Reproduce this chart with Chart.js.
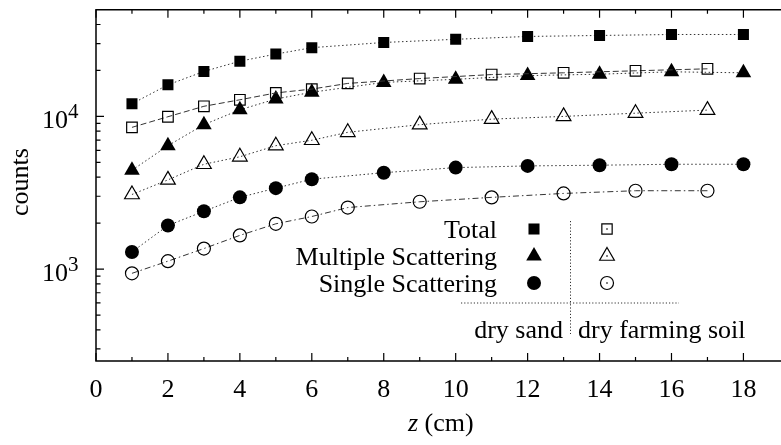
<!DOCTYPE html>
<html>
<head>
<meta charset="utf-8">
<script src="https://cdn.jsdelivr.net/npm/chart.js@4.4.1/dist/chart.umd.min.js"></script>
<style>
  html, body { margin: 0; padding: 0; background: #fff; }
</style>
</head>
<body>
<canvas id="counts" width="781" height="445"></canvas>
<script>
// depth z (cm) where each medium was sampled
const zSand = [1, 2, 3, 4, 5, 6, 8, 10, 12, 14, 16, 18]
const zSoil = [1, 2, 3, 4, 5, 6, 7, 9, 11, 13, 15, 17]

// counts, dry sand (filled symbols)
const totalSand    = [12100, 16100, 19700, 23000, 25600, 28200, 30500, 32000, 33400, 33900, 34400, 34400]
const multipleSand = [4440, 6430, 8830, 11050, 13000, 14400, 16700, 17500, 18500, 18900, 19600, 19300]
const singleSand   = [1295, 1930, 2390, 2950, 3390, 3880, 4280, 4620, 4740, 4790, 4860, 4860]

// counts, dry farming soil (open symbols)
const totalSoil    = [8480, 9950, 11650, 12850, 14250, 15100, 16450, 17700, 18800, 19300, 19900, 20500]
const multipleSoil = [3080, 3840, 4860, 5440, 6430, 6980, 7870, 8830, 9600, 10000, 10500, 11000]
const singleSoil   = [938, 1127, 1363, 1663, 1980, 2210, 2530, 2760, 2950, 3130, 3260, 3260]

const xTickLabels = [0, 2, 4, 6, 8, 10, 12, 14, 16, 18]
const yTickLabels = [{value: 1000, base: '10', exp: '3'}, {value: 10000, base: '10', exp: '4'}]
const legendRows = ['Total', 'Multiple Scattering', 'Single Scattering']

const SERIF = '"Liberation Serif", "Times New Roman", serif'
const LINE = '#333'

const pts = (xs, ys) => xs.map((x, i) => ({x: x, y: ys[i]}))

const series = [
  {data: pts(zSand, totalSand), pointStyle: 'rect', pointRadius: 7.8, fill: true, dash: [1.5, 2.5]},
  {data: pts(zSoil, totalSoil), pointStyle: 'rect', pointRadius: 7.5, fill: false, dash: [6, 3]},
  {data: pts(zSand, multipleSand), pointStyle: 'triangle', pointRadius: 9, fill: true, dash: [1.5, 2.5]},
  {data: pts(zSoil, multipleSoil), pointStyle: 'triangle', pointRadius: 8.5, fill: false, dash: [1.5, 2.5]},
  {data: pts(zSand, singleSand), pointStyle: 'circle', pointRadius: 7, fill: true, dash: [1.5, 2.5]},
  {data: pts(zSoil, singleSoil), pointStyle: 'circle', pointRadius: 6.5, fill: false, dash: [6, 3, 1.5, 3]}
]

const datasets = series.map(s => ({
  data: s.data,
  showLine: true,
  borderColor: LINE,
  borderWidth: 1,
  borderDash: s.dash,
  pointStyle: s.pointStyle,
  pointRadius: s.pointRadius,
  pointHoverRadius: s.pointRadius,
  pointBorderColor: '#000',
  pointBorderWidth: s.fill ? 0 : 1.2,
  pointBackgroundColor: s.fill ? '#000' : 'rgba(0,0,0,0)'
}))

const frame = {
  id: 'frame',
  afterDraw(chart) {
    const ctx = chart.ctx
    const xs = chart.scales.x, ys = chart.scales.y
    const a = chart.chartArea
    ctx.save()
    ctx.strokeStyle = '#000'
    ctx.lineWidth = 1.5
    ctx.beginPath()
    ctx.moveTo(chart.width, a.top); ctx.lineTo(a.left, a.top)
    ctx.lineTo(a.left, a.bottom); ctx.lineTo(chart.width, a.bottom)
    ctx.stroke()

    // x ticks, bottom and top, pointing inwards
    ctx.lineWidth = 1.2
    ctx.beginPath()
    for (let v = 0; v <= 18; v++) {
      const px = xs.getPixelForValue(v)
      const len = v % 2 === 0 ? 8 : 4
      ctx.moveTo(px, a.bottom); ctx.lineTo(px, a.bottom - len)
      ctx.moveTo(px, a.top); ctx.lineTo(px, a.top + len)
    }
    // y ticks on log axis
    for (let e = 2; e <= 4; e++) {
      for (let k = 1; k <= 9; k++) {
        const v = k * Math.pow(10, e)
        if (v < ys.min || v >= ys.max) continue
        const py = ys.getPixelForValue(v)
        const len = k === 1 ? 8 : 4.5
        ctx.moveTo(a.left, py); ctx.lineTo(a.left + len, py)
      }
    }
    ctx.stroke()

    // tick labels
    ctx.fillStyle = '#000'
    ctx.font = '26px ' + SERIF
    ctx.textAlign = 'center'
    ctx.textBaseline = 'alphabetic'
    xTickLabels.forEach(v => ctx.fillText(String(v), xs.getPixelForValue(v), 397))
    yTickLabels.forEach(t => {
      const py = ys.getPixelForValue(t.value)
      ctx.font = '26px ' + SERIF
      ctx.textAlign = 'right'
      ctx.fillText(t.base, 68, py + 12)
      ctx.font = '21px ' + SERIF
      ctx.textAlign = 'left'
      ctx.fillText(t.exp, 68, py + 2)
    })

    // axis titles
    ctx.font = 'italic 26px ' + SERIF
    ctx.textAlign = 'left'
    ctx.fillText('z', 408, 431)
    const zw = ctx.measureText('z').width
    ctx.font = '26px ' + SERIF
    ctx.fillText(' (cm)', 408 + zw, 431)
    ctx.save()
    ctx.translate(28, 182)
    ctx.rotate(-Math.PI / 2)
    ctx.textAlign = 'center'
    ctx.fillText('counts', 0, 0)
    ctx.restore()

    // key
    const rowsY = [229, 256, 283]
    ctx.textAlign = 'right'
    legendRows.forEach((t, i) => ctx.fillText(t, 497, rowsY[i] + 9))
    const shapes = ['rect', 'triangle', 'circle']
    const radii = [7.8, 9, 7]
    shapes.forEach((s, i) => {
      ctx.fillStyle = '#000'
      ctx.strokeStyle = '#000'
      ctx.lineWidth = 0
      Chart.helpers.drawPoint(ctx, {pointStyle: s, radius: radii[i], borderWidth: 0, rotation: 0}, 534, rowsY[i])
      ctx.fillStyle = 'rgba(0,0,0,0)'
      ctx.lineWidth = 1.2
      Chart.helpers.drawPoint(ctx, {pointStyle: s, radius: radii[i] - 0.5, borderWidth: 1.2, rotation: 0}, 607, rowsY[i])
      ctx.fillStyle = '#000'
      ctx.fillRect(606.3, rowsY[i] - 0.7, 1.4, 1.4)
    })
    ctx.strokeStyle = '#333'
    ctx.lineWidth = 1
    ctx.setLineDash([1.2, 2])
    ctx.beginPath()
    ctx.moveTo(570.5, 221); ctx.lineTo(570.5, 334)
    ctx.moveTo(461, 303); ctx.lineTo(679, 303)
    ctx.stroke()
    ctx.setLineDash([])
    ctx.fillStyle = '#000'
    ctx.font = '26px ' + SERIF
    ctx.textAlign = 'right'
    ctx.fillText('dry sand', 563, 338)
    ctx.textAlign = 'left'
    ctx.fillText('dry farming soil', 578, 338)
    ctx.restore()
  }
}

new Chart(document.getElementById('counts'), {
  type: 'scatter',
  data: {datasets: datasets},
  options: {
    responsive: false,
    devicePixelRatio: 1,
    animation: false,
    layout: {padding: {top: 8, left: 0, right: 0, bottom: 0}},
    plugins: {legend: {display: false}, tooltip: {enabled: false}},
    scales: {
      x: {
        type: 'linear', min: 0, max: 18.775,
        ticks: {display: false}, grid: {display: false}, border: {display: false},
        afterFit: s => { s.height = 84 }
      },
      y: {
        type: 'logarithmic', min: 250, max: 50000,
        ticks: {display: false}, grid: {display: false}, border: {display: false},
        afterFit: s => { s.width = 96 }
      }
    }
  },
  plugins: [frame]
})
</script>
</body>
</html>
